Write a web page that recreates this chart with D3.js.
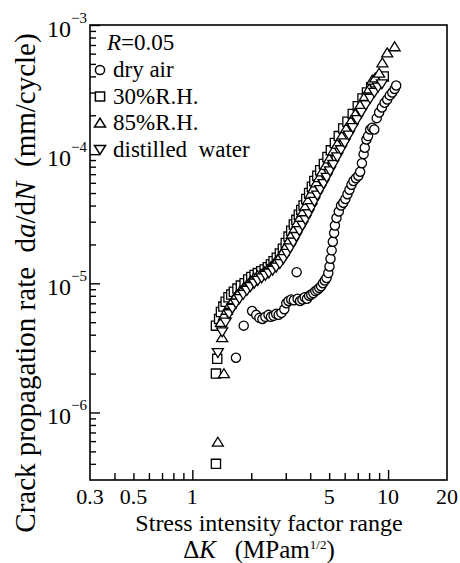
<!DOCTYPE html>
<html>
<head>
<meta charset="utf-8">
<script src="https://cdn.jsdelivr.net/npm/d3@7"></script>
<style>
  html, body { margin: 0; padding: 0; background: #fff; }
  #chart text { font-family: 'Liberation Serif', 'Times New Roman', serif; fill: #000; }
</style>
</head>
<body>
<div id="chart"></div>
<script>
// Data (dK in MPa m^1/2, da/dN in mm/cycle)
const dryAirK = [1.67, 1.83, 2.02, 2.12, 2.2, 2.28, 2.36, 2.45, 2.52, 2.6, 2.68, 2.76, 2.85, 2.95, 3.02, 3.1, 3.2, 3.3, 3.41, 3.45, 3.55, 3.65, 3.75, 3.85, 3.95, 4.05, 4.15, 4.25, 4.35, 4.45, 4.55, 4.65, 4.75, 4.85, 4.95, 5.02, 5.08, 5.15, 5.22, 5.3, 5.35, 5.45, 5.6, 5.75, 5.9, 6.05, 6.2, 6.35, 6.5, 6.65, 6.85, 7.05, 7.2, 7.35, 7.5, 7.6, 7.75, 7.9, 8.1, 8.3, 8.5, 8.75, 9.0, 9.3, 9.6, 9.9, 10.2, 10.5, 10.8, 11.0];
const dryAirRate = [2.65e-6, 4.7e-6, 6.1e-6, 5.7e-6, 5.4e-6, 5.3e-6, 5.5e-6, 5.7e-6, 5.5e-6, 5.6e-6, 5.8e-6, 5.7e-6, 5.9e-6, 6.3e-6, 7.0e-6, 7.3e-6, 7.5e-6, 7.4e-6, 1.22e-5, 7.6e-6, 7.3e-6, 7.5e-6, 7.8e-6, 7.6e-6, 8.0e-6, 8.2e-6, 8.4e-6, 8.7e-6, 8.9e-6, 9.2e-6, 9.5e-6, 1.0e-5, 1.05e-5, 1.1e-5, 1.2e-5, 1.35e-5, 1.55e-5, 1.8e-5, 2.1e-5, 2.45e-5, 2.8e-5, 3.2e-5, 3.6e-5, 4.0e-5, 4.2e-5, 4.5e-5, 4.9e-5, 5.3e-5, 5.8e-5, 6.2e-5, 6.5e-5, 6.8e-5, 7.3e-5, 8.5e-5, 1.0e-4, 1.12e-4, 1.3e-4, 1.38e-4, 1.55e-4, 1.6e-4, 1.55e-4, 1.9e-4, 2.1e-4, 2.3e-4, 2.5e-4, 2.65e-4, 2.85e-4, 3.0e-4, 3.2e-4, 3.4e-4];

const rh30K = [1.32, 1.32, 1.34, 1.32, 1.37, 1.4, 1.44, 1.48, 1.53, 1.58, 1.63, 1.7, 1.77, 1.85, 1.93, 2.0, 2.08, 2.16, 2.25, 2.34, 2.43, 2.52, 2.6, 2.7, 2.8, 2.9, 3.0, 3.1, 3.2, 3.3, 3.4, 3.5, 3.6, 3.7, 3.82, 3.95, 4.08, 4.2, 4.35, 4.5, 4.7, 4.9, 5.1, 5.35, 5.6, 5.9, 6.2, 6.6, 7.0, 7.4, 7.8, 8.2, 8.6, 9.0, 9.5];
const rh30Rate = [4.0e-7, 2.0e-6, 2.6e-6, 4.7e-6, 5.3e-6, 6.0e-6, 6.6e-6, 7.2e-6, 7.8e-6, 8.2e-6, 8.6e-6, 9.1e-6, 9.6e-6, 1.0e-5, 1.07e-5, 1.12e-5, 1.16e-5, 1.2e-5, 1.24e-5, 1.28e-5, 1.33e-5, 1.4e-5, 1.48e-5, 1.58e-5, 1.7e-5, 1.85e-5, 2.05e-5, 2.3e-5, 2.55e-5, 2.85e-5, 3.1e-5, 3.4e-5, 3.7e-5, 4.0e-5, 4.5e-5, 5.0e-5, 5.6e-5, 6.2e-5, 6.8e-5, 7.5e-5, 8.4e-5, 9.5e-5, 1.07e-4, 1.22e-4, 1.38e-4, 1.58e-4, 1.78e-4, 2.05e-4, 2.35e-4, 2.7e-4, 3.0e-4, 3.3e-4, 3.6e-4, 3.8e-4, 4.0e-4];

const rh85K = [1.35, 1.45, 1.42, 1.4, 1.45, 1.5, 1.56, 1.62, 1.68, 1.75, 1.83, 1.9, 1.98, 2.06, 2.15, 2.24, 2.33, 2.42, 2.52, 2.62, 2.72, 2.82, 2.92, 3.02, 3.12, 3.22, 3.33, 3.44, 3.55, 3.66, 3.78, 3.9, 4.02, 4.15, 4.3, 4.45, 4.6, 4.8, 5.0, 5.25, 5.5, 5.8, 6.1, 6.45, 6.8, 7.2, 7.6, 8.0, 8.3, 8.6, 9.0, 9.35, 9.9, 10.8];
const rh85Rate = [5.9e-7, 2.0e-6, 3.8e-6, 5.0e-6, 5.6e-6, 6.2e-6, 6.9e-6, 7.5e-6, 8.1e-6, 8.7e-6, 9.3e-6, 9.8e-6, 1.04e-5, 1.1e-5, 1.15e-5, 1.18e-5, 1.23e-5, 1.28e-5, 1.35e-5, 1.43e-5, 1.52e-5, 1.64e-5, 1.78e-5, 1.95e-5, 2.15e-5, 2.4e-5, 2.65e-5, 2.95e-5, 3.25e-5, 3.55e-5, 3.95e-5, 4.4e-5, 4.9e-5, 5.4e-5, 6.0e-5, 6.6e-5, 7.3e-5, 8.2e-5, 9.2e-5, 1.06e-4, 1.2e-4, 1.38e-4, 1.58e-4, 1.8e-4, 2.05e-4, 2.4e-4, 2.8e-4, 3.2e-4, 3.75e-4, 3.9e-4, 4.25e-4, 5.1e-4, 6.1e-4, 6.8e-4];

const waterK = [1.35, 1.42, 1.48, 1.54, 1.6, 1.67, 1.74, 1.82, 1.9, 1.98, 2.07, 2.16, 2.26, 2.36, 2.46, 2.57, 2.68, 2.8, 2.92, 3.04, 3.16, 3.28, 3.4, 3.52, 3.65, 3.78, 3.92, 4.06, 4.2, 4.35, 4.5, 4.68, 4.86, 5.05, 5.25, 5.5, 5.75, 6.0, 6.3, 6.6, 6.95, 7.3, 7.7, 8.1, 8.5, 8.9, 9.3];
const waterRate = [2.9e-6, 4.2e-6, 5.0e-6, 5.8e-6, 6.4e-6, 7.0e-6, 7.6e-6, 8.2e-6, 8.8e-6, 9.4e-6, 1.0e-5, 1.05e-5, 1.1e-5, 1.15e-5, 1.2e-5, 1.26e-5, 1.33e-5, 1.42e-5, 1.55e-5, 1.7e-5, 1.88e-5, 2.08e-5, 2.3e-5, 2.55e-5, 2.8e-5, 3.1e-5, 3.45e-5, 3.85e-5, 4.3e-5, 4.8e-5, 5.3e-5, 5.9e-5, 6.6e-5, 7.4e-5, 8.3e-5, 9.5e-5, 1.08e-4, 1.22e-4, 1.4e-4, 1.6e-4, 1.85e-4, 2.1e-4, 2.4e-4, 2.7e-4, 3.0e-4, 3.3e-4, 3.5e-4];

const seriesNames = ['dry air', '30%R.H.', '85%R.H.', 'distilled  water'];

// Axis ticks
const xMajorTicks = [1, 10];
const xMinorTicks = [0.4, 0.5, 0.6, 0.7, 0.8, 0.9, 2, 3, 4, 5, 6, 7, 8, 9];
const xTickLabels = [0.3, 0.5, 1, 5, 10, 20];
const yMajorExp = [-6, -5, -4, -3];
const yMinorTicks = [4e-7, 5e-7, 6e-7, 7e-7, 8e-7, 9e-7,
  2e-6, 3e-6, 4e-6, 5e-6, 6e-6, 7e-6, 8e-6, 9e-6,
  2e-5, 3e-5, 4e-5, 5e-5, 6e-5, 7e-5, 8e-5, 9e-5,
  2e-4, 3e-4, 4e-4, 5e-4, 6e-4, 7e-4, 8e-4, 9e-4];

const Chart = {
  init() {
    this.setVar();
    this.create();
    this.scales();
    this.axis();
    this.points();
    this.legend();
    this.labels();
  },

  setVar() {
    this.margin = { left: 90, right: 13, top: 25, bottom: 83 };
    this.width = 460 - this.margin.left - this.margin.right;
    this.height = 563 - this.margin.top - this.margin.bottom;

    this.series = [
      { name: seriesNames[0], k: dryAirK, rate: dryAirRate, shape: 'circle' },
      { name: seriesNames[1], k: rh30K, rate: rh30Rate, shape: 'square' },
      { name: seriesNames[2], k: rh85K, rate: rh85Rate, shape: 'triangle' },
      { name: seriesNames[3], k: waterK, rate: waterRate, shape: 'down' },
    ];
  },

  create() {
    this.svg = d3.select('#chart').append('svg')
      .attr('width', 460)
      .attr('height', 563);

    this.g = this.svg.append('g')
      .attr('transform', `translate(${this.margin.left} ${this.margin.top})`);
  },

  scales() {
    this.x = d3.scaleLog()
      .domain([0.3, 20])
      .range([0, this.width]);

    this.y = d3.scaleLog()
      .domain([3e-7, 1e-3])
      .range([this.height, 0]);
  },

  axis() {
    // x ticks point inward
    const axMinor = d3.axisBottom(this.x).tickValues(xMinorTicks).tickSize(-7).tickFormat('');
    const axMajor = d3.axisBottom(this.x).tickValues(xMajorTicks).tickSize(-10).tickFormat('');
    [axMinor, axMajor].forEach((a) => {
      const call = this.g.append('g')
        .attr('transform', `translate(0, ${this.height})`)
        .call(a);
      call.select('.domain').remove();
      call.selectAll('line').attr('stroke', '#000').attr('stroke-width', 1.4);
    });

    this.g.append('g')
      .selectAll('text')
      .data(xTickLabels)
      .join('text')
      .attr('x', (d) => this.x(d))
      .attr('y', this.height + 24)
      .attr('text-anchor', 'middle')
      .attr('font-size', '22px')
      .text((d) => d);

    // y ticks point inward
    const ayMinor = d3.axisLeft(this.y).tickValues(yMinorTicks).tickSize(-6).tickFormat('');
    const ayMajor = d3.axisLeft(this.y).tickValues(yMajorExp.map((e) => Math.pow(10, e))).tickSize(-10).tickFormat('');
    [ayMinor, ayMajor].forEach((a) => {
      const call = this.g.append('g').call(a);
      call.select('.domain').remove();
      call.selectAll('line').attr('stroke', '#000').attr('stroke-width', 1.4);
    });

    const yl = this.g.append('g')
      .selectAll('text')
      .data(yMajorExp)
      .join('text')
      .attr('x', -3)
      .attr('y', (d) => this.y(Math.pow(10, d)) + 12)
      .attr('text-anchor', 'end')
      .attr('font-size', '24px');
    yl.append('tspan').text('10');
    yl.append('tspan')
      .attr('dy', -14)
      .attr('font-size', '15px')
      .text((d) => '\u2212' + Math.abs(d));

    // frame
    this.g.append('rect')
      .attr('width', this.width)
      .attr('height', this.height)
      .attr('fill', 'none')
      .attr('stroke', '#000')
      .attr('stroke-width', 1.6);
  },

  symbolPath(shape, s) {
    if (shape === 'circle') {
      return d3.symbol(d3.symbolCircle, Math.PI * s * s)();
    }
    if (shape === 'square') {
      return d3.symbol(d3.symbolSquare, (2 * s) * (2 * s))();
    }
    const h = s * 1.05;
    const w = s * 1.2;
    if (shape === 'triangle') {
      return `M0,${-h}L${w},${h * 0.85}L${-w},${h * 0.85}Z`;
    }
    return `M0,${h}L${w},${-h * 0.85}L${-w},${-h * 0.85}Z`;
  },

  points() {
    this.series.forEach((s) => {
      const pts = s.k.map((k, i) => ({ k: k, rate: s.rate[i] }));
      this.g.append('g')
        .selectAll('path')
        .data(pts)
        .join('path')
        .attr('transform', (d) => `translate(${this.x(d.k)} ${this.y(d.rate)})`)
        .attr('d', this.symbolPath(s.shape, 4.6))
        .attr('fill', '#fff')
        .attr('stroke', '#000')
        .attr('stroke-width', 1.3);
    });
  },

  legend() {
    const lg = this.g.append('g').attr('transform', 'translate(10, 0)');

    const head = lg.append('text')
      .attr('x', 7)
      .attr('y', 25)
      .attr('font-size', '23px');
    head.append('tspan').attr('font-style', 'italic').text('R');
    head.append('tspan').text('=0.05');

    const rows = lg.selectAll('.row')
      .data(this.series)
      .join('g')
      .attr('class', 'row')
      .attr('transform', (d, i) => `translate(0, ${45 + i * 26.5})`);

    rows.append('path')
      .attr('d', (d) => this.symbolPath(d.shape, 4.6))
      .attr('fill', '#fff')
      .attr('stroke', '#000')
      .attr('stroke-width', 1.5);

    rows.append('text')
      .attr('x', 13)
      .attr('y', 7)
      .attr('font-size', '23px')
      .style('white-space', 'pre')
      .text((d) => d.name);
  },

  labels() {
    const xt = this.svg.append('g')
      .attr('text-anchor', 'middle')
      .attr('font-size', '24px');

    xt.append('text')
      .attr('x', 269)
      .attr('y', 531)
      .text('Stress intensity factor range');

    const l2 = xt.append('text')
      .attr('x', 259)
      .attr('y', 558)
      .attr('font-size', '25px')
      .style('white-space', 'pre');
    l2.append('tspan').text('\u0394');
    l2.append('tspan').attr('font-style', 'italic').text('K');
    l2.append('tspan').text('   (MPam');
    l2.append('tspan').attr('dy', -9).attr('font-size', '13px').text('1/2');
    l2.append('tspan').attr('dy', 9).text(')');

    const yt = this.svg.append('text')
      .attr('transform', 'translate(35, 283) rotate(-90)')
      .attr('text-anchor', 'middle')
      .attr('font-size', '29px')
      .style('white-space', 'pre');
    yt.append('tspan').text('Crack propagation rate  d');
    yt.append('tspan').attr('font-style', 'italic').text('a');
    yt.append('tspan').text('/d');
    yt.append('tspan').attr('font-style', 'italic').text('N');
    yt.append('tspan').text('  (mm/cycle)');
  },
};

Chart.init();
</script>
</body>
</html>
